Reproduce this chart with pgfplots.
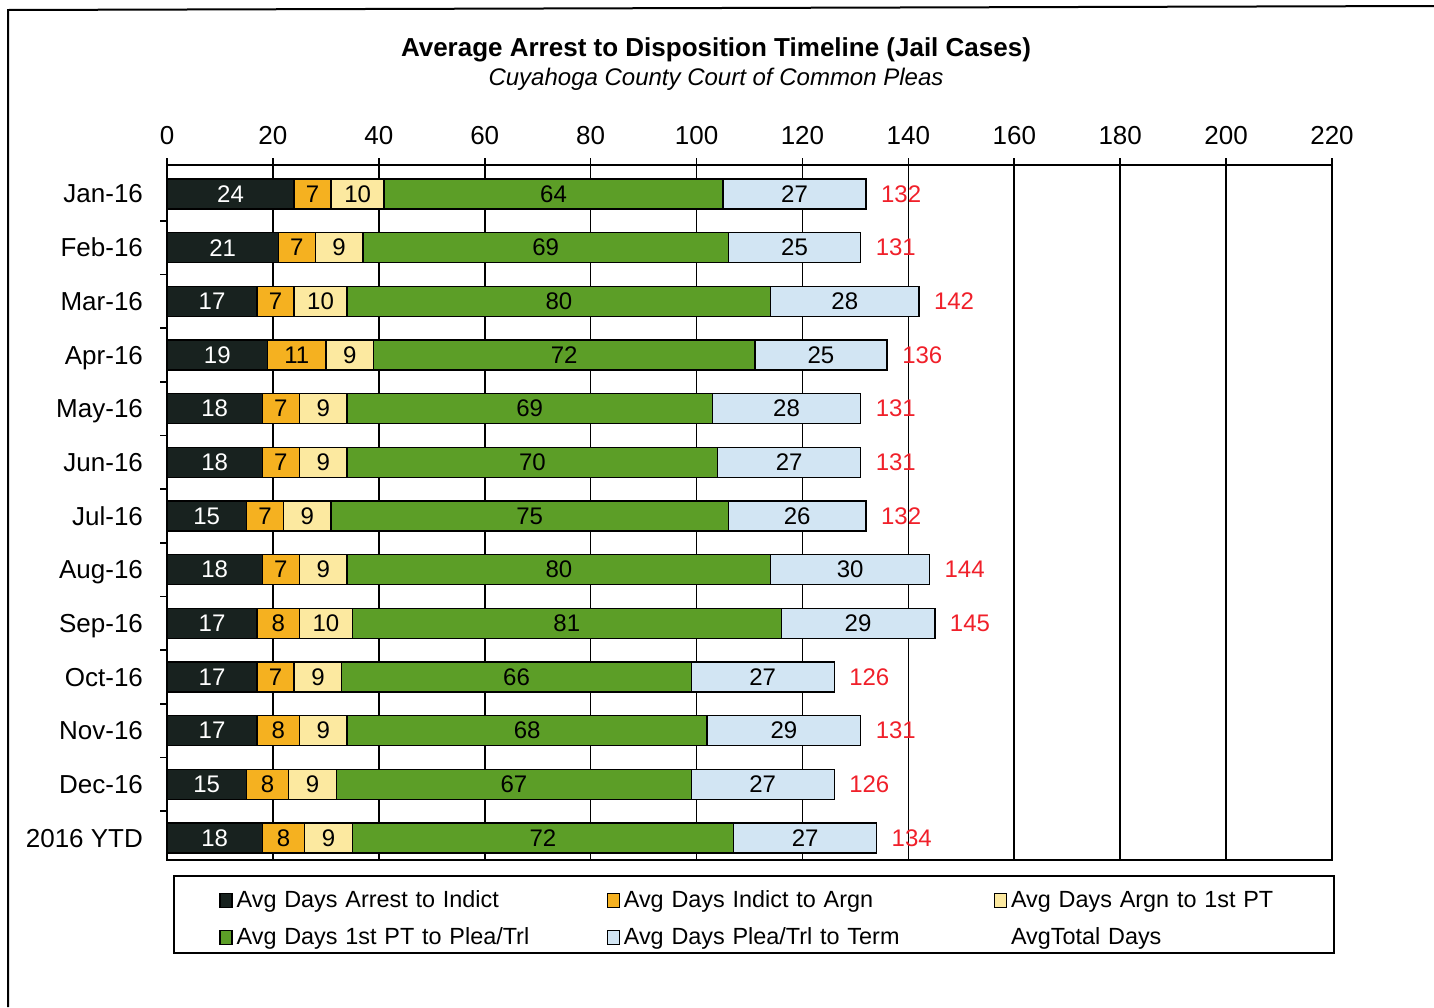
\documentclass[border=0pt]{standalone}
\usepackage{pgfplots}
\pgfplotsset{compat=1.18}
\usepackage{pgfplotstable}
\usepackage{fontspec}
\setmainfont{Liberation Sans}

\definecolor{segA}{HTML}{18221F}
\definecolor{segB}{HTML}{F5B120}
\definecolor{segC}{HTML}{FCE9A0}
\definecolor{segD}{HTML}{5C9E27}
\definecolor{segE}{HTML}{D2E5F3}
\definecolor{totred}{HTML}{F0202A}

% idx: 0 = Jan-16 ... 12 = 2016 YTD
\pgfplotstableread{
idx a  b  c  d  e  total
0   24 7  10 64 27 132
1   21 7  9  69 25 131
2   17 7  10 80 28 142
3   19 11 9  72 25 136
4   18 7  9  69 28 131
5   18 7  9  70 27 131
6   15 7  9  75 26 132
7   18 7  9  80 30 144
8   17 8  10 81 29 145
9   17 7  9  66 27 126
10  17 8  9  68 29 131
11  15 8  9  67 27 126
12  18 8  9  72 27 134
}\timeline

\pgfplotsset{
  seg/.style={fill=#1, draw=black, line width=0.7pt,
    legend image code/.code={\draw[fill=#1, draw=black, line width=0.6pt] (0pt,-3.5pt) rectangle (6pt,3.5pt);}},
}

\begin{document}
\begin{tikzpicture}
\path[use as bounding box] (0,0) rectangle (717pt,-503.5pt);
\draw[line width=1pt] (4pt,-503.5pt) -- (4pt,-5pt) -- (717pt,-3pt);
\node[font=\fontsize{13}{15}\selectfont\bfseries] at (358pt,-25pt) {Average Arrest to Disposition Timeline (Jail Cases)};
\node[font=\fontsize{12}{14}\selectfont\itshape] at (358pt,-39.5pt) {Cuyahoga County Court of Common Pleas};
\begin{axis}[
  at={(83.5pt,-430pt)}, anchor=south west,
  scale only axis, width=582.5pt, height=347.5pt,
  xbar stacked, bar width=15pt,
  stacked ignores zero=false,
  xmin=0, xmax=220, xtick={0,20,...,220},
  xtick pos=right, xticklabel pos=right,
  xmajorgrids, grid style={black, line width=0.8pt},
  ymin=-0.54, ymax=12.41, y dir=reverse,
  ytick={0,...,12},
  yticklabels={Jan-16,Feb-16,Mar-16,Apr-16,May-16,Jun-16,Jul-16,Aug-16,Sep-16,Oct-16,Nov-16,Dec-16,2016 YTD},
  ytick pos=left,
  major tick length=3.5pt, minor tick length=3.5pt,
  major y tick style={draw=none},
  minor ytick={0.5,1.5,...,11.5},
  tick style={black, line width=0.8pt},
  tick align=outside,
  axis line style={black, line width=1pt},
  ticklabel style={font=\fontsize{13}{15}\selectfont},
  yticklabel style={xshift=-5pt, text height=9.5pt, text depth=2.5pt, yshift=-1pt},
  xticklabel style={yshift=3pt},
  /pgf/number format/assume math mode=true,
  every node near coord/.append style={font=\fontsize{12}{14}\selectfont, text=black},
  legend columns=3,
  legend style={draw=none, fill=none, at={(0.0395,-0.032)}, anchor=north west,
    font=\fontsize{11.7}{14}\selectfont, row sep=4.5pt,
    nodes={text width=183pt, align=left}},
  legend cell align=left,
]
\addplot[seg=segA, nodes near coords, every node near coord/.append style={text=white}] table[x=a, y=idx] {\timeline};
\addplot[seg=segB, nodes near coords] table[x=b, y=idx] {\timeline};
\addplot[seg=segC, nodes near coords] table[x=c, y=idx] {\timeline};
\addplot[seg=segD, nodes near coords] table[x=d, y=idx] {\timeline};
\addplot[seg=segE, nodes near coords] table[x=e, y=idx] {\timeline};
\addplot[draw=none, fill=none, legend image code/.code={},
  nodes near coords, point meta=explicit symbolic,
  every node near coord/.append style={text=totred, anchor=west, xshift=4pt}]
  table[x expr=0, y=idx, meta=total] {\timeline};
\legend{Avg Days Arrest to Indict, Avg Days Indict to Argn, Avg Days Argn to 1st PT,
  Avg Days 1st PT to Plea/Trl, Avg Days Plea/Trl to Term, AvgTotal Days}
\end{axis}
\draw[line width=1.2pt] (87pt,-438pt) rectangle (667pt,-476.5pt);
\end{tikzpicture}
\end{document}
